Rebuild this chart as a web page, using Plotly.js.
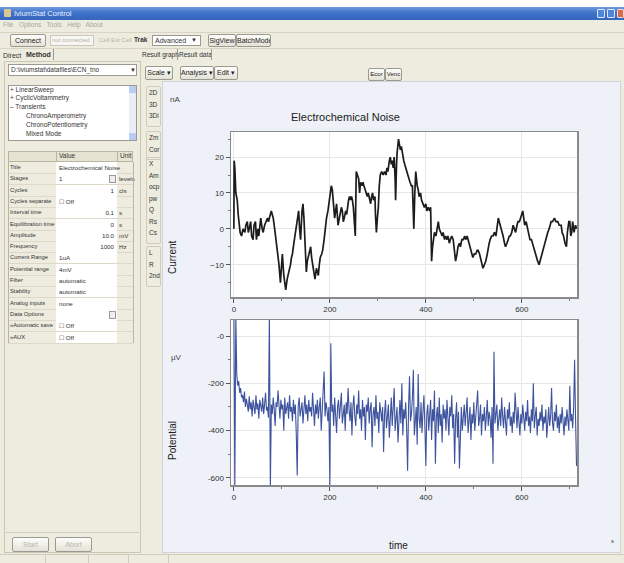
<!DOCTYPE html>
<html><head><meta charset="utf-8">
<script src="https://cdn.plot.ly/plotly-3.0.1.min.js"></script>
<style>
body{margin:0;width:624px;height:563px;overflow:hidden;background:#fff;font-family:"Liberation Sans",Arial,sans-serif;position:relative}
.a{position:absolute;box-sizing:border-box}
.t{position:absolute;font-size:7px;color:#333;white-space:nowrap;line-height:1}
.btn{position:absolute;box-sizing:border-box;border:1px solid #9a9a90;border-radius:2px;background:linear-gradient(#fdfdfb,#e4e2d6);font-size:7px;color:#222;text-align:center;white-space:nowrap;overflow:hidden;line-height:11px}
.grey{color:#b4b4aa}
.panel{position:absolute;box-sizing:border-box;border:1px solid #c9c6b4}
</style></head><body>

<!-- ===== chart data ===== -->
<script>
// Current (nA) vs time (s)
const curTime = [
  0,0.5,2,4,7,9,11,13,16,19,23,25,28,30,32,35,37,40,42,45,47,50,52,54,56,
  59,61,64,67,70,72,75,78,80,82,85,88,90,92,94,97,99,101,104,106,108,111,113,116,118,
  120,122,125,127,130,132,135,137,139,142,144,146,148,151,153,155,158,160,162,164,167,169,172,174,176,
  178,180,183,185,188,190,193,196,199,201,203,205,207,210,212,214,217,220,222,224,226,228,230,
  233,235,237,239,241,243,245,247,249,251,253,255,258,260,262,264,267,269,271,273,275,278,280,283,285,287,289,
  291,294,295,297,299,301,303,305,308,311,314,317,319,321,324,326,328,330,332,334,336,337,339,340,343,345,
  347,349,351,354,356,358,361,364,367,370,372,374,375,377,379,382,384,386,389,391,394,397,400,402,405,408,410,411,412,
  414,416,418,421,424,426,428,431,434,436,439,441,444,446,449,451,454,457,460,462,465,467,470,472,475,478,481,483,486,
  488,491,493,496,498,501,504,507,509,512,514,517,519,522,525,528,530,532,534,537,540,543,546,549,551,553,
  555,558,561,564,566,569,571,574,576,579,582,585,587,590,592,595,597,600,602,604,606,609,612,615,617,620,622,
  625,628,630,633,636,638,641,643,645,648,651,654,657,659,661,664,668,671,675,678,682,684,687,690,693,695,696,698,700,702,704,706,707,709,710,712,714
];
const curValue = [
  0,19,17,10,8,4,1,-1,-2,0,-1,1,2,-1,0,2,-2,-3,1,2,-3,0,-2,1,3,
  0,-1,1,2,3,2,4,5,4,3,0,-3,-6,-8,-10,-15,-9,-7,-13,-16,-17,-14,-13,-11,-10,
  -8,-7,-4,-2,1,3,5,0,-3,5,7,3,-4,-12,-9,-8,-6,-5,-8,-10,-12,-14,-11,-12,-13,
  -10,-8,-7,-6,-3,0,3,5,8,10,12,11,8,3,5,7,1,3,4,6,5,2,3,
  5,4,7,8,9,8,9,8,6,3,-2,16,15,14,10,13,12,13,12,11,10,9,10,8,7,9,10,
  8,9,4,-1,3,6,12,15,16,15,16,15,17,16,19,20,18,19,17,20,14,8,18,21,25,23,
  22,23,21,19,18,17,16,14,13,12,12,4,0,10,16,12,11,9,10,8,7,6,7,5,6,5,6,0,-9,
  -5,-3,-1,-2,0,2,0,-1,-2,-1,-3,-2,-3,-2,-4,-3,-2,-3,-6,-9,-7,-5,-4,-5,-3,-3,-2,-3,-2,
  -3,-5,-6,-7,-8,-7,-7,-6,-6,-7,-8,-10,-11,-10,-9,-7,-5,-4,-3,-2,-2,-1,-2,1,3,2,
  1,0,-2,-4,-5,-4,-3,-2,-2,-1,1,0,-1,1,2,2,3,4,5,3,1,2,0,-2,-3,-3,-4,
  -5,-7,-8,-9,-10,-9,-7,-6,-5,-4,-2,-1,0,1,2,2,3,2,2,1,1,-1,-2,-4,-5,-1,0,2,2,-2,-1,2,1,-1,0,1,0
];
// Potential (µV), one reading every 2 s from t = 0 to 714 s
const potStep = 2;
const potValue = [
  100,-650,90,-160,-210,-190,-240,-220,-260,-250,-280,-235,-300,-265,-290,-320,-255,-310,-280,-340,
  -270,-300,-330,-250,-310,-285,-350,-270,-300,-320,-260,-330,-290,-240,-315,-300,-345,100,-650,-290,
  -330,-260,-310,-380,-280,-300,-230,-320,-350,-270,-310,-290,-400,-260,-330,-305,-280,-350,-250,-320,
  -300,-360,-270,-330,-290,-410,-590,-300,-260,-340,-310,-280,-370,-300,-250,-330,-290,-360,-270,-320,
  -300,-340,-240,-310,-380,-290,-330,-270,-350,-300,-260,-400,-320,-290,-150,-340,-280,-310,-360,-300,
  -650,-30,-320,-290,-380,-260,-330,-410,-300,-270,-350,-310,-240,-370,-320,-290,-400,-280,-330,-220,
  -310,-360,-280,-420,-300,-250,-340,-380,-290,-330,-230,-350,-310,-400,-270,-340,-300,-440,-290,-320,
  -260,-370,-310,-280,-470,-330,-300,-380,-250,-350,-320,-410,-280,-340,-360,-300,-490,-330,-270,-390,
  -320,-290,-430,-350,-260,-380,-310,-220,-400,-340,-300,-450,-330,-270,-370,-200,-420,-310,-350,-280,
  -390,-570,-300,-170,-360,-330,-260,-143,-420,-340,-300,-460,-160,-350,-390,-280,-410,-320,-250,-380,
  -550,-330,-290,-400,-350,-270,-440,-310,-360,-230,-540,-340,-300,-410,-260,-380,-330,-450,-290,-350,
  -310,-400,-270,-360,-420,-300,-340,-250,-390,-330,-540,-350,-280,-430,-320,-560,-360,-300,-400,-340,
  -290,-380,-320,-260,-410,-350,-300,-440,-330,-370,-280,-400,-340,-310,-230,-380,-350,-290,-420,-330,
  -360,-300,-400,-340,-270,-380,-320,-350,-430,-300,-540,-66,-370,-330,-290,-400,-350,-310,-380,-260,
  -340,-390,-300,-360,-420,-310,-350,-280,-380,-340,-410,-320,-370,-240,-350,-390,-300,-360,-420,-330,
  -370,-290,-350,-400,-320,-360,-270,-380,-340,-410,-310,-360,-200,-390,-340,-300,-420,-350,-380,-320,
  -360,-290,-400,-340,-370,-310,-430,-350,-300,-380,-340,-220,-370,-400,-320,-360,-290,-390,-340,-410,
  -330,-370,-300,-360,-420,-340,-380,-310,-350,-400,-210,-360,-330,-390,-300,-100,-350,-550
];
const xTicks = [0,200,400,600];
const xMinor = [100,300,500,700];
const curTicks = [-10,0,10,20];
const curMinor = [-15,-5,5,15,25];
const potTicks = [0,-200,-400,-600];
const potTickText = ['-0','-200','-400','-600'];
const potMinor = [-100,-300,-500];
const chartTitle = 'Electrochemical Noise';
</script>

<!-- ===== window chrome ===== -->
<div class="a" style="left:0;top:7px;width:624px;height:556px;background:#eeecdf"></div>
<div class="a" style="left:0;top:7px;width:624px;height:13px;background:linear-gradient(#6d9be0,#3f72c9 45%,#3566bf)"></div>
<div class="a" style="left:4px;top:9px;width:7px;height:8px;background:#d8c890;border-radius:1px"></div>
<div class="t" style="left:14px;top:10px;color:#eef3ff;font-size:7.5px">IviumStat Control</div>
<div class="a" style="left:597px;top:9px;width:8px;height:9px;background:#4f86dc;border:1px solid #dfe8fa;border-radius:1px"></div>
<div class="a" style="left:607px;top:9px;width:8px;height:9px;background:#4f86dc;border:1px solid #dfe8fa;border-radius:1px"></div>
<div class="a" style="left:617px;top:9px;width:7px;height:9px;background:#d86a4a;border:1px solid #f0d8d0;border-radius:1px"></div>
<div class="t grey" style="left:3px;top:22px;font-size:6.5px;color:#a8a8a0">File&nbsp;&nbsp; Options&nbsp;&nbsp; Tools&nbsp;&nbsp; Help&nbsp;&nbsp; About</div>
<div class="a" style="left:0;top:32px;width:624px;height:1px;background:#d8d5c4"></div>
<div class="btn" style="left:10px;top:34px;width:36px;height:13px">Connect</div>
<div class="a" style="left:50px;top:35px;width:44px;height:11px;border:1px solid #c8c8c0;background:#f6f6f2"></div>
<div class="t grey" style="left:52px;top:37px;font-size:6px">not connected</div>
<div class="t grey" style="left:99px;top:37px;font-size:6px">Cell Ext Cell</div>
<div class="t" style="left:134px;top:37px;font-size:6.5px;font-weight:bold">Trak</div>
<div class="a" style="left:152px;top:35px;width:49px;height:11px;border:1px solid #9a9a90;background:#fff"></div>
<div class="t" style="left:155px;top:37px">Advanced</div>
<div class="t" style="left:191px;top:37px;font-size:6px">&#9660;</div>
<div class="btn" style="left:208px;top:34px;width:28px;height:13px">SigView</div>
<div class="btn" style="left:236px;top:34px;width:35px;height:13px">BatchMode</div>
<div class="a" style="left:0;top:48px;width:624px;height:1px;background:#d8d5c4"></div>
<div class="t" style="left:3px;top:52px">Direct</div>
<div class="t" style="left:26px;top:51px;font-weight:bold">Method</div>
<div class="a" style="left:53px;top:49px;width:1px;height:11px;background:#999"></div>
<div class="t" style="left:142px;top:52px;font-size:6.5px">Result graph</div>
<div class="a" style="left:177px;top:49px;width:1px;height:11px;background:#999"></div>
<div class="t" style="left:179px;top:52px;font-size:6.5px">Result data</div>
<div class="a" style="left:211px;top:49px;width:1px;height:11px;background:#999"></div>

<!-- left panel -->
<div class="panel" style="left:4px;top:61px;width:137px;height:492px"></div>
<div class="a" style="left:8px;top:64px;width:129px;height:12px;border:1px solid #9a9a90;background:#fff"></div>
<div class="t" style="left:11px;top:67px;font-size:6.5px">D:\iviumstat\datafiles\ECN_tno</div>
<div class="t" style="left:130px;top:67px;font-size:6px">&#9660;</div>
<div class="a" style="left:8px;top:85px;width:129px;height:56px;border:1px solid #9a9a90;background:#fff"></div>
<div class="a" style="left:129px;top:86px;width:7px;height:54px;background:#e8edf8"></div>
<div class="a" style="left:129px;top:86px;width:7px;height:7px;background:#b9cdf0"></div>
<div class="a" style="left:129px;top:133px;width:7px;height:7px;background:#b9cdf0"></div>
<div class="t" style="left:10px;top:87px;font-size:6.5px">+ LinearSweep</div>
<div class="t" style="left:10px;top:95px;font-size:6.5px">+ CyclicVoltammetry</div>
<div class="t" style="left:10px;top:104px;font-size:6.5px">&#8211; Transients</div>
<div class="t" style="left:26px;top:113px;font-size:6.5px">ChronoAmperometry</div>
<div class="t" style="left:26px;top:122px;font-size:6.5px">ChronoPotentiometry</div>
<div class="t" style="left:26px;top:131px;font-size:6.5px">Mixed Mode</div>
<div id="grid"></div>
<div class="a" style="left:6px;top:532px;width:133px;height:1px;background:#d0cdbb"></div>
<div class="btn grey" style="left:12px;top:537px;width:37px;height:15px;line-height:13px;color:#b8b8ae">Start</div>
<div class="btn grey" style="left:55px;top:537px;width:37px;height:15px;line-height:13px;color:#b8b8ae">Abort</div>
<div class="a" style="left:0;top:554px;width:624px;height:1px;background:#cfccba"></div>
<div class="a" style="left:45px;top:555px;width:1px;height:8px;background:#cfccba"></div>
<div class="a" style="left:88px;top:555px;width:1px;height:8px;background:#cfccba"></div>
<div class="a" style="left:128px;top:555px;width:1px;height:8px;background:#cfccba"></div>
<div class="a" style="left:168px;top:555px;width:1px;height:8px;background:#cfccba"></div>

<!-- graph toolbar -->
<div class="btn" style="left:145px;top:66px;width:28px;height:14px">Scale &#9662;</div>
<div class="btn" style="left:180px;top:66px;width:34px;height:14px">Analysis &#9662;</div>
<div class="btn" style="left:214px;top:66px;width:24px;height:14px">Edit &#9662;</div>
<div class="btn" style="left:368px;top:68px;width:17px;height:13px;font-size:6px">Ecor</div>
<div class="btn" style="left:385px;top:68px;width:17px;height:13px;font-size:6px">Venc</div>
<div id="sidebtns"></div>

<!-- plot -->
<div class="a" style="left:162px;top:81px;width:459px;height:472px;border:1px solid #cfd3dc"></div>
<div id="plot" class="a" style="left:163px;top:82px;width:457px;height:470px"></div>

<script>
// property grid
const gridRows = [
  ['Title','Electrochemical Noise',''],['Stages','1','levels'],['Cycles','1','cls'],
  ['Cycles separate','☐ Off',''],['Interval time','0.1','s'],['Equilibration time','0','s'],
  ['Amplitude','10.0','mV'],['Frequency','1000','Hz'],['Current Range','1uA',''],
  ['Potential range','4mV',''],['Filter','automatic',''],['Stability','automatic',''],
  ['Analog inputs','none',''],['Data Options','',''],['»Automatic save','☐ Off',''],['»AUX','☐ Off','']
];
const rightAlign = {'Cycles':1,'Interval time':1,'Equilibration time':1,'Amplitude':1,'Frequency':1};
let g = '';
const gx0 = 8, gx1 = 56, gx2 = 117, gx3 = 133;
g += `<div class="a" style="left:${gx0}px;top:151px;width:${gx3-gx0}px;height:11px;background:#e6e3d3;border:1px solid #b8b5a4"></div>`;
g += `<div class="t" style="left:${gx1+3}px;top:153px;font-size:6.5px">Value</div>`;
g += `<div class="t" style="left:${gx2+3}px;top:153px;font-size:6.5px">Unit</div>`;
g += `<div class="a" style="left:${gx1}px;top:151px;width:1px;height:11px;background:#b8b5a4"></div>`;
g += `<div class="a" style="left:${gx2}px;top:151px;width:1px;height:11px;background:#b8b5a4"></div>`;
gridRows.forEach((r,i)=>{
  const y = 162 + i*11.3;
  g += `<div class="a" style="left:${gx1}px;top:${y}px;width:${gx2-gx1}px;height:11.3px;background:#fff"></div>`;
  g += `<div class="a" style="left:${gx0}px;top:${y+11}px;width:${gx3-gx0}px;height:1px;background:#dcd9c8"></div>`;
  g += `<div class="t" style="left:${gx0+2}px;top:${y+3}px;font-size:5.8px">${r[0]}</div>`;
  if (rightAlign[r[0]]) g += `<div class="t" style="left:${gx1}px;width:${gx2-gx1-3}px;text-align:right;top:${y+3}px;font-size:6.2px">${r[1]}</div>`;
  else g += `<div class="t" style="left:${gx1+3}px;top:${y+3}px;font-size:6.2px">${r[1]}</div>`;
  g += `<div class="t" style="left:${gx2+2}px;top:${y+3}px;font-size:6.2px">${r[2]}</div>`;
  if (r[0]==='Stages'||r[0]==='Data Options') g += `<div class="a" style="left:${gx2-8}px;top:${y+2}px;width:7px;height:8px;border:1px solid #999;background:#eee"></div>`;
});
g += `<div class="a" style="left:${gx0}px;top:162px;width:1px;height:181px;background:#b8b5a4"></div>`;
g += `<div class="a" style="left:${gx3}px;top:162px;width:1px;height:181px;background:#b8b5a4"></div>`;
document.getElementById('grid').innerHTML = g;

// side buttons
const sideGroups = [[86,['2D','3D','3Di']],[131,['Zm','Cor']],[157,['X','Am','ocp','pw','Q','Rs','Cs']],[246,['L','R','2nd']]];
let s = '';
sideGroups.forEach(([y0,labels])=>{
  s += `<div class="a" style="left:146px;top:${y0}px;width:15px;height:${labels.length*11.5+6}px;border:1px solid #cfccba;border-radius:2px"></div>`;
  labels.forEach((l,i)=>{ s += `<div class="t" style="left:149px;top:${y0+4+i*11.5}px;font-size:6.5px">${l}</div>`; });
});
document.getElementById('sidebtns').innerHTML = s;

// chart
const potTime = potValue.map((v,i)=>i*potStep);
const W = 457, H = 470;
const px = (x)=>x/W, py = (y)=>1-y/H;
const axisFont = {family:'Liberation Sans, Arial, sans-serif', size:8, color:'#333'};
const xCommon = {
  domain:[px(68),px(414)], range:[-6,715], tickmode:'array', tickvals:xTicks,
  ticks:'outside', ticklen:4, tickcolor:'#555', tickwidth:1,
  minor:{tickmode:'array', tickvals:xMinor, ticks:'outside', ticklen:2, tickcolor:'#777', showgrid:false},
  showgrid:true, gridcolor:'#e6e6e6', gridwidth:1, zeroline:false,
  showline:true, linecolor:'#8a8a8a', linewidth:1.5, mirror:true, tickfont:axisFont
};
const data = [
  {x:curTime, y:curValue, type:'scatter', mode:'lines', xaxis:'x', yaxis:'y',
   line:{color:'#1c1c1c', width:1.7}, hoverinfo:'skip'},
  {x:potTime, y:potValue, type:'scatter', mode:'lines', xaxis:'x2', yaxis:'y2',
   line:{color:'#3d539e', width:1.1}, hoverinfo:'skip'}
];
const layout = {
  width:W, height:H, margin:{l:0,r:0,t:0,b:0},
  paper_bgcolor:'#eef1f7', plot_bgcolor:'#ffffff', showlegend:false,
  font:axisFont,
  xaxis:Object.assign({}, xCommon, {anchor:'y'}),
  xaxis2:Object.assign({}, xCommon, {anchor:'y2'}),
  yaxis:{domain:[py(215),py(50)], range:[-19,27], anchor:'x', tickmode:'array', tickvals:curTicks,
    ticks:'outside', ticklen:4, tickcolor:'#555',
    minor:{tickmode:'array', tickvals:curMinor, ticks:'outside', ticklen:2, tickcolor:'#777', showgrid:false},
    showgrid:true, gridcolor:'#e6e6e6', zeroline:false,
    showline:true, linecolor:'#8a8a8a', linewidth:1.5, mirror:true, tickfont:axisFont},
  yaxis2:{domain:[py(403),py(238)], range:[-630,68], anchor:'x2', tickmode:'array', tickvals:potTicks, ticktext:potTickText,
    ticks:'outside', ticklen:4, tickcolor:'#555',
    minor:{tickmode:'array', tickvals:potMinor, ticks:'outside', ticklen:2, tickcolor:'#777', showgrid:false},
    showgrid:true, gridcolor:'#e6e6e6', zeroline:false,
    showline:true, linecolor:'#8a8a8a', linewidth:1.5, mirror:true, tickfont:axisFont},
  annotations:[
    {text:chartTitle, xref:'paper', yref:'paper', x:px(182), y:py(35), showarrow:false, xanchor:'center', yanchor:'middle',
     font:{family:'Liberation Sans, Arial, sans-serif', size:11, color:'#222'}},
    {text:'nA', xref:'paper', yref:'paper', x:px(12), y:py(17), showarrow:false, xanchor:'center', yanchor:'middle', font:{size:8,color:'#444'}},
    {text:'Current', xref:'paper', yref:'paper', x:px(9), y:py(175), showarrow:false, textangle:-90, xanchor:'center', yanchor:'middle',
     font:{size:10,color:'#222'}},
    {text:'µV', xref:'paper', yref:'paper', x:px(13), y:py(275), showarrow:false, xanchor:'center', yanchor:'middle', font:{size:8,color:'#444'}},
    {text:'Potential', xref:'paper', yref:'paper', x:px(9), y:py(359), showarrow:false, textangle:-90, xanchor:'center', yanchor:'middle',
     font:{size:10,color:'#222'}},
    {text:'time', xref:'paper', yref:'paper', x:px(235), y:py(463), showarrow:false, xanchor:'center', yanchor:'middle', font:{size:10,color:'#222'}},
    {text:'s', xref:'paper', yref:'paper', x:px(449), y:py(459), showarrow:false, xanchor:'center', yanchor:'middle', font:{size:6,color:'#444'}}
  ]
};
Plotly.newPlot('plot', data, layout, {displayModeBar:false, staticPlot:true});
</script>
</body></html>
